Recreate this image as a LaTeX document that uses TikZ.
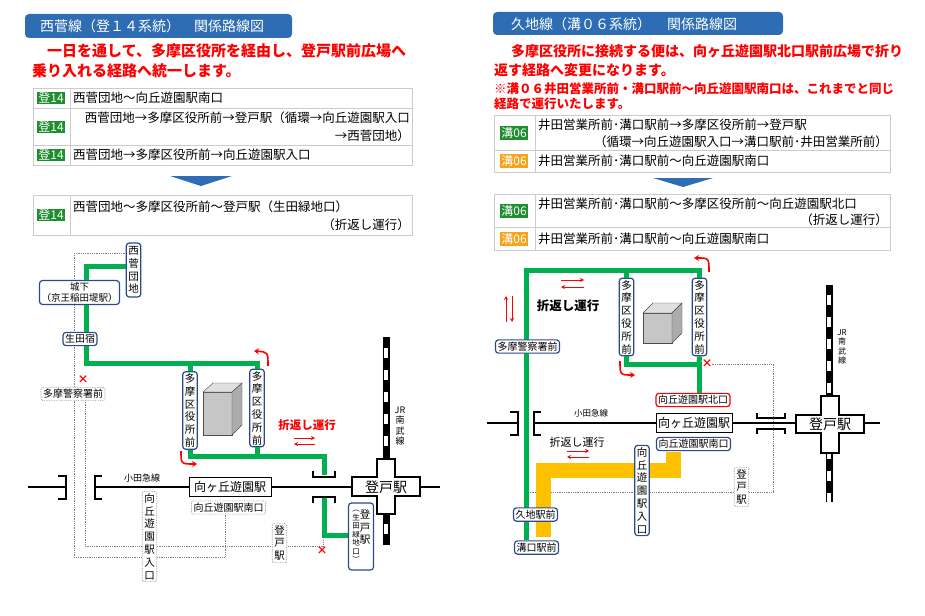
\documentclass[tikz,border=0pt]{standalone}
\usepackage{fontspec}
\setmainfont{Noto Sans CJK JP}
\usetikzlibrary{arrows.meta}
\definecolor{titleblue}{HTML}{2E6DB4}
\definecolor{stopblue}{HTML}{2B4A8A}
\definecolor{routegreen}{HTML}{00B050}
\definecolor{badgegreen}{HTML}{1E8E2E}
\definecolor{routeyellow}{HTML}{FFC000}
\definecolor{badgeorange}{HTML}{F7A21B}
\tikzset{
  title/.style={text=white, font=\fontsize{14}{15}\selectfont, anchor=west, inner sep=0pt},
  note/.style={anchor=west, text=red, font=\bfseries\fontsize{15}{16}\selectfont, inner sep=0pt},
  subnote/.style={anchor=west, text=red, font=\bfseries\fontsize{12.5}{13}\selectfont, inner sep=0pt},
  cell/.style={draw=gray!40, line width=0.8pt},
  rowtext/.style={anchor=west, font=\fontsize{12.5}{13}\selectfont, inner sep=0pt},
  badge/.style={fill=badgegreen, text=white, font=\fontsize{12}{13}\selectfont, inner sep=1pt},
  obadge/.style={badge, fill=badgeorange},
  stop/.style={draw=stopblue, line width=1.2pt, rounded corners=3pt, fill=white, inner sep=2pt, font=\fontsize{10}{11}\selectfont, align=center},
  vstop/.style={stop, font=\fontsize{10.5}{12.8}\selectfont, inner sep=2pt},
  dstop/.style={draw=gray!90, densely dotted, line width=0.7pt, rounded corners=2pt, fill=white, inner sep=2pt, font=\fontsize{10}{11}\selectfont, align=center},
  vdstop/.style={dstop, font=\fontsize{10.5}{12.8}\selectfont},
  stn/.style={draw=black, line width=1pt, fill=white, font=\fontsize{12}{13}\selectfont, inner sep=2pt},
  route/.style={line width=5pt, draw=routegreen},
  yroute/.style={line width=15pt, draw=routeyellow},
  dline/.style={draw=gray, densely dotted, line width=0.8pt},
  rail/.style={line width=1.2pt},
  brk/.style={line width=1.6pt},
  turn/.style={red, line width=1.6pt, -{Stealth[length=5pt,width=6pt]}},
  shuttle/.style={red, line width=1pt, -{Stealth[length=4pt,width=4pt]}},
  cross/.style={draw=black, line width=1.6pt, fill=white},
  xmark/.style={text=red, font=\bfseries\fontsize{11}{11}\selectfont, inner sep=0pt}
}
\begin{document}
\begin{tikzpicture}[x=1pt,y=-1pt]
\useasboundingbox (0,0) rectangle (925,615);

% ---------- left panel: header and tables
\fill[titleblue, rounded corners=4pt] (25,14) rectangle (292,38);
\node[title] (ltitle) at (40,26) {西菅線（登１４系統）\hspace{14pt}関係路線図};
\node[note] (lnote1) at (32,51) {　一日を通して、多摩区役所を経由し、登戸駅前広場へ};
\node[note] (lnote2) at (32,71) {乗り入れる経路へ統一します。};

\draw[cell] (33,88) rectangle (412,165);
\draw[cell] (33,108) -- (412,108) (33,145) -- (412,145) (70,88) -- (70,165);
\node[badge] (lb1) at (51,98) {登14};
\node[badge] (lb2) at (51,127) {登14};
\node[badge] (lb3) at (51,155) {登14};
\node[rowtext] at (73,98) {西菅団地～向丘遊園駅南口};
\node[rowtext, anchor=east] at (410,118) {西菅団地→多摩区役所前→登戸駅（循環→向丘遊園駅入口};
\node[rowtext, anchor=east] at (410,136) {→西菅団地）};
\node[rowtext] at (73,155) {西菅団地→多摩区役所前→向丘遊園駅入口};
\fill[titleblue] (170,176) -- (232,176) -- (201,186) -- cycle;
\draw[cell] (33,195) rectangle (412,235) (70,195) -- (70,235);
\node[badge] (lb4) at (51,215) {登14};
\node[rowtext] at (73,207) {西菅団地～多摩区役所前～登戸駅（生田緑地口）};
\node[rowtext, anchor=east] at (410,225) {（折返し運行）};

% ---------- right panel: header and tables
\fill[titleblue, rounded corners=4pt] (493,12) rectangle (783,35);
\node[title] (rtitle) at (511,24) {久地線（溝０６系統）\hspace{16pt}関係路線図};
\node[note, font=\bfseries\fontsize{14}{15}\selectfont] (rnote1) at (497,51) {　多摩区役所に接続する便は、向ヶ丘遊園駅北口駅前広場で折り};
\node[note, font=\bfseries\fontsize{14}{15}\selectfont] (rnote2) at (494,70) {返す経路へ変更になります。};
\node[subnote] (rnote3) at (494,89) {※溝０６井田営業所前・溝口駅前～向丘遊園駅南口は、これまでと同じ};
\node[subnote] (rnote4) at (494,104) {経路で運行いたします。};

\draw[cell] (494,115) rectangle (890,172) (494,150) -- (890,150) (535,115) -- (535,172);
\node[badge] (rb1) at (514,133) {溝06};
\node[obadge] (rb2) at (514,161) {溝06};
\node[rowtext] at (538,125) {井田営業所前･溝口駅前→多摩区役所前→登戸駅};
\node[rowtext, anchor=east] at (888,142) {（循環→向丘遊園駅入口→溝口駅前･井田営業所前）};
\node[rowtext] at (538,161) {井田営業所前･溝口駅前～向丘遊園駅南口};
\fill[titleblue] (653,178) -- (713,178) -- (683,187) -- cycle;
\draw[cell] (494,194) rectangle (890,250) (494,227) -- (890,227) (535,194) -- (535,250);
\node[badge] (rb3) at (514,211) {溝06};
\node[obadge] (rb4) at (514,239) {溝06};
\node[rowtext] at (538,204) {井田営業所前･溝口駅前～多摩区役所前～向丘遊園駅北口};
\node[rowtext, anchor=east] at (888,220) {（折返し運行）};
\node[rowtext] at (538,239) {井田営業所前･溝口駅前～向丘遊園駅南口};

% ---------- left map
% old routes (dotted)
\draw[dline] (74,253) -- (125,253);
\draw[dline] (74,253) -- (74,557) -- (225,557) -- (225,515);
\draw[dline] (85,400) -- (85,546) -- (323,546) -- (323,540);
% rails
\draw[rail] (28,487) -- (66,487) (95,487) -- (352,487);
\draw[brk] (58,476) -- (66,476) -- (66,499) -- (58,499);
\draw[brk] (102,476) -- (95,476) -- (95,499) -- (102,499);
\draw[line width=7pt] (386,337) -- (386,545);
\draw[line width=4.5pt, white, dash pattern=on 10pt off 12pt] (386,348) -- (386,545);
% green route
\node[vstop, minimum height=54pt] (lnishi) at (133.5,270) {西\\菅\\団\\地};
\node[stop, font=\fontsize{9.5}{11}\selectfont] (lshiro) at (79.5,292.5) {城下\\（京王稲田堤駅）};
\node[stop] (likuta) at (80,339) {生田宿};
\node[vstop] (lward1) at (190,410.5) {多\\摩\\区\\役\\所\\前};
\node[vstop] (lward2) at (257,408) {多\\摩\\区\\役\\所\\前};
\coordinate (lc1) at (86,266);
\coordinate (lc2) at (86,363);
\coordinate (lc3) at (324,456);
\coordinate (lc4) at (324,535);
\draw[route] (lnishi.west |- lc1) -- (lc1) -- (lshiro.north -| lc1);
\draw[route] (lshiro.south -| lc1) -- (likuta.north -| lc1);
\draw[route] (likuta.south -| lc1) -- (lc2) -- (lward2.north |- lc2) -- (lward2.north);
\draw[route] (lward1.north |- lc2) -- (lward1.north);
\draw[route] (lward1.south) -- (lward1.south |- lc3) -- (lc3) -- (324,475);
\draw[route] (lward2.south) -- (lward2.south |- lc3);
\draw[route] (324,497) -- (lc4) -- (350,535);
\node[dstop] (lpolice) at (73,394) {多摩警察署前};
\node[xmark] at (83,380) {×};
\node[xmark] at (322,551) {×};
\draw[brk] (313,471) -- (313,477) -- (335,477) -- (335,471);
\draw[brk] (313,503) -- (313,497) -- (335,497) -- (335,503);
\node[font=\fontsize{9}{10}\selectfont] (lodakyu) at (142,478) {小田急線};
\node[stn, minimum width=82pt, minimum height=19pt] (lmuko) at (230,486.5) {向ヶ丘遊園駅};
\node[dstop] (lsouth) at (228.5,507.5) {向丘遊園駅南口};
\node[vdstop] (lentr) at (149.5,536.5) {向\\丘\\遊\\園\\駅\\入\\口};
\node[vdstop] (lnobo) at (279.5,543) {登\\戸\\駅};
\node[stop, minimum width=25pt, minimum height=67pt] (lnoboik) at (361,536.5) {};
\node[font=\fontsize{10.5}{12.5}\selectfont, align=center, inner sep=0pt] at ([xshift=4pt,yshift=9pt]lnoboik.center) {登\\戸\\駅};
\node[font=\fontsize{7.5}{8.5}\selectfont, align=center, inner sep=0pt] at ([xshift=-5pt]lnoboik.center) {︵\\生\\田\\緑\\地\\口\\︶};
% cube
\fill[gray!45, draw=black!70] (203,392) rectangle (232,435);
\fill[gray!25, draw=black!70] (203,392) -- (213,383) -- (242,383) -- (232,392) -- cycle;
\fill[gray!65, draw=black!70] (232,392) -- (242,383) -- (242,425) -- (232,435) -- cycle;
% turns
\draw[turn] (268,366) .. controls (268,352) .. (254,351);
\draw[turn] (181,451) .. controls (181,464) .. (197,464);
\node[text=red, font=\bfseries\fontsize{11.5}{12}\selectfont] (lturn) at (307,425) {折返し運行};
\draw[shuttle] (294,438) -- (315,438);
\draw[shuttle] (315,444) -- (294,444);
% Noborito cross
\draw[cross] (377,459) -- (395,459) -- (395,477) -- (420,477) -- (420,496) -- (395,496) -- (395,514) -- (377,514) -- (377,496) -- (352,496) -- (352,477) -- (377,477) -- cycle;
\draw[rail] (420,487) -- (440,487);
\node[font=\fontsize{14}{15}\selectfont] (lnoboX) at (386,487) {登戸駅};
\node[font=\fontsize{9}{10.5}\selectfont, align=center] (ljr) at (400,426) {JR\\南\\武\\線};

% ---------- right map
\draw[dline] (528,492) -- (773,492) -- (773,364) -- (712,364);
\draw[rail] (487,423) -- (518,423) (534,423) -- (796,423);
\draw[brk] (510,412) -- (518,412) -- (518,435) -- (510,435);
\draw[brk] (541,412) -- (534,412) -- (534,435) -- (541,435);
\draw[brk] (757,413) -- (757,418) -- (785,418) -- (785,413);
\draw[brk] (757,434) -- (757,429) -- (785,429) -- (785,434);
\draw[line width=7pt] (829,285) -- (829,502);
\draw[line width=4.5pt, white, dash pattern=on 10pt off 12pt] (829,295) -- (829,502);
\node[vstop] (rward1) at (626.5,317) {多\\摩\\区\\役\\所\\前};
\node[vstop] (rward2) at (699.5,317) {多\\摩\\区\\役\\所\\前};
\node[stop, draw=red] (rnorth) at (693,400) {向丘遊園駅北口};
\node[stn, minimum width=76pt, minimum height=19pt] (rmuko) at (694,422.5) {向ヶ丘遊園駅};
\node[stop] (rsouth) at (693.5,444) {向丘遊園駅南口};
\coordinate (rc1) at (526,270);
\coordinate (rc2) at (699,364);
\draw[yroute] (673,452) -- (673,470) -- (543,470) -- (543,537);
\draw[route] (526,540) -- (rc1) -- (rward2.north |- rc1) -- (rward2.north);
\draw[route] (rward1.north |- rc1) -- (rward1.north);
\draw[route] (rward1.south) -- (rward1.south |- rc2) -- (rc2) -- (rnorth.north -| rc2);
\draw[route] (rward2.south) -- (rc2);
\node[stop] (rpolice) at (527.5,346.5) {多摩警察署前};
\node[stop] (rkuji) at (535.5,514.5) {久地駅前};
\node[stop] (rmizo) at (536.5,547.5) {溝口駅前};
\node[vstop] (rentr) at (642,490.5) {向\\丘\\遊\\園\\駅\\入\\口};
\node[vdstop] (rnobo) at (741.5,487) {登\\戸\\駅};
\node[xmark] at (707,364) {×};
\node[font=\fontsize{8.5}{9}\selectfont] (rodakyu) at (591,413) {小田急線};
% cube
\fill[gray!45, draw=black!70] (643,313) rectangle (672,343);
\fill[gray!25, draw=black!70] (643,313) -- (653,303) -- (682,303) -- (672,313) -- cycle;
\fill[gray!65, draw=black!70] (672,313) -- (682,303) -- (682,333) -- (672,343) -- cycle;
\draw[turn] (709,272) .. controls (709,258) .. (694,258);
\draw[turn] (620,361) .. controls (620,375) .. (635,375);
\draw[shuttle] (506,322) -- (506,296);
\draw[shuttle] (512,296) -- (512,322);
\draw[shuttle] (561,280) -- (584,280);
\draw[shuttle] (584,287) -- (561,287);
\node[font=\bfseries\fontsize{12.5}{13}\selectfont] (rturn1) at (568,306) {折返し運行};
\node[font=\fontsize{11}{12}\selectfont] (rturn2) at (577,442) {折返し運行};
\draw[shuttle] (567,451) -- (589,451);
\draw[shuttle] (589,457) -- (567,457);
\draw[cross] (821,396) -- (839,396) -- (839,415) -- (864,415) -- (864,433) -- (839,433) -- (839,453) -- (821,453) -- (821,433) -- (796,433) -- (796,415) -- (821,415) -- cycle;
\draw[rail] (864,423) -- (880,423);
\node[font=\fontsize{14}{15}\selectfont] (rnoboX) at (830,424) {登戸駅};
\node[font=\fontsize{8}{9.5}\selectfont, align=center] (rjr) at (842,347) {JR\\南\\武\\線};
\end{tikzpicture}
\end{document}
